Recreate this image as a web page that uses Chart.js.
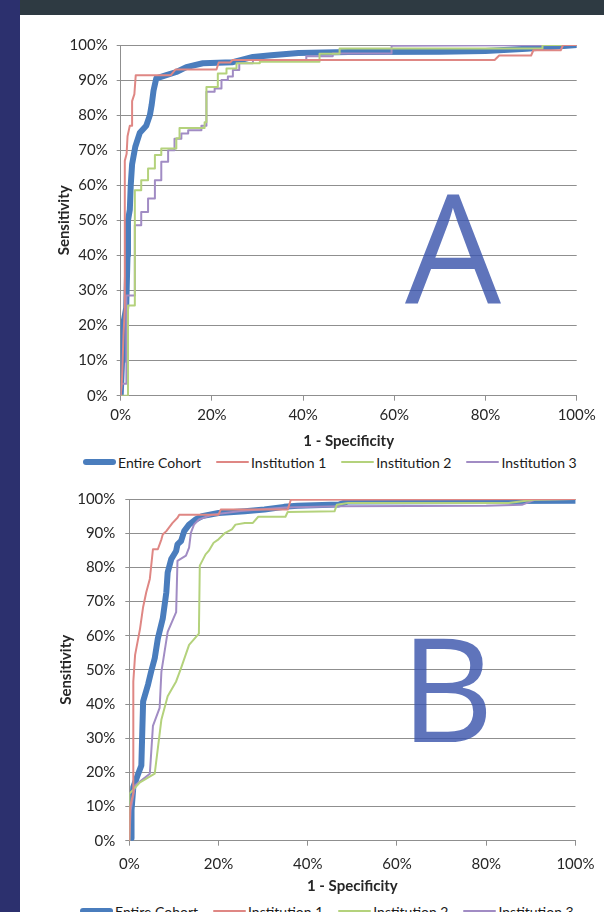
<!DOCTYPE html>
<html>
<head>
<meta charset="utf-8">
<script src="https://cdn.jsdelivr.net/npm/chart.js@4.4.0/dist/chart.umd.min.js"></script>
<style>
html, body { margin: 0; padding: 0; width: 604px; height: 912px; overflow: hidden; background: #fff; }
#sidebar { position: absolute; left: 0; top: 0; width: 20px; height: 912px; background: #2c306e; }
#topbar { position: absolute; left: 20px; top: 0; width: 584px; height: 15px; background: #2e3a42; }
canvas { position: absolute; left: 20px; }
#chartA { top: 15px; }
#chartB { top: 480px; }
.letter { position: absolute; width: 200px; text-align: center; font-family: "Open Sans"; color: rgba(60, 86, 172, 0.82); }
#letterA { left: 353px; top: 170px; font-size: 152px; line-height: 152px; }
#letterB { left: 347px; top: 613px; font-size: 145px; line-height: 145px; }
.legend { position: absolute; height: 20px; display: flex; align-items: center; white-space: nowrap; font-family: Lato; font-size: 14px; color: #1a1a1a; }
.legend .item { display: flex; align-items: center; margin-right: 15px; }
.legend .swatch { display: inline-block; width: 33px; margin-right: 2px; }
#legendA { left: 83px; top: 452px; }
#legendB { left: 80px; top: 901px; }
</style>
</head>
<body>
<div id="sidebar"></div>
<div id="topbar"></div>
<canvas id="chartA" width="584" height="435"></canvas>
<canvas id="chartB" width="584" height="415"></canvas>
<div class="letter" id="letterA">A</div>
<div class="letter" id="letterB">B</div>
<div class="legend" id="legendA"></div>
<div class="legend" id="legendB"></div>
<script>
// series names
var seriesNames = ['Entire Cohort', 'Institution 1', 'Institution 2', 'Institution 3'];

// panel A: 1 - specificity (%) and sensitivity (%)
var cohortA_x = [0, 0.3, 0.5, 1.2, 1.5, 1.6, 2.0, 2.2, 2.5, 3.2, 4.2, 5.6, 6.4, 6.8, 7.2, 7.8, 10, 12.2, 14.4, 18, 24.6, 29, 33, 39, 50, 70, 80, 89, 95, 100];
var cohortA_y = [0, 10, 20, 25, 40, 50, 53, 60, 66, 71, 75, 77, 80, 83, 87, 90.5, 91.4, 92.3, 93.7, 94.8, 95.1, 96.6, 97.1, 97.7, 98, 98.1, 98.3, 98.9, 99.5, 100];
var inst1A_x = [0, 0.3, 0.6, 0.9, 0.9, 1.3, 1.5, 2.0, 2.5, 2.5, 3.0, 3.3, 11, 12, 21, 21.5, 24, 24.5, 82, 83, 90, 90.5, 96.5, 97, 100];
var inst1A_y = [0, 5, 17, 25, 67, 69, 74, 77, 77, 84, 86, 91.4, 91.4, 93, 93, 95, 95, 95.7, 95.7, 97, 97, 98.5, 98.5, 100, 100];
var inst2A_x = [0, 1.6, 1.6, 3.1, 3.1, 4.5, 4.5, 6.0, 6.0, 7.5, 7.5, 8.9, 8.9, 12.2, 12.2, 12.9, 12.9, 18.4, 18.4, 18.8, 18.8, 21.3, 21.3, 23.2, 23.2, 25.4, 25.4, 30.5, 30.5, 43.6, 43.6, 48, 48, 92.5, 92.5, 100];
var inst2A_y = [0, 0, 25.7, 25.7, 58.6, 58.6, 61.4, 61.4, 64.8, 64.8, 68.6, 68.6, 70.5, 70.5, 73.4, 73.4, 76.3, 76.3, 78, 78, 88, 88, 91.9, 91.9, 93.3, 93.3, 94.8, 94.8, 95.2, 95.2, 97.5, 97.5, 99, 99, 100, 100];
var inst3A_x = [0, 0.2, 1.25, 1.25, 3.1, 3.1, 4.5, 4.5, 6.0, 6.0, 7.5, 7.5, 8.9, 8.9, 10.4, 10.4, 11.8, 11.8, 13.3, 13.3, 14.8, 14.8, 17.7, 17.7, 18.8, 18.8, 20.6, 20.6, 22.1, 22.1, 23.5, 23.5, 24.6, 24.6, 26, 26, 29, 29, 40.7, 40.7, 46.5, 46.5, 59.4, 59.4, 100];
var inst3A_y = [0, 3.4, 3.4, 28.6, 28.6, 48.6, 48.6, 52.4, 52.4, 56.2, 56.2, 61.4, 61.4, 66.7, 66.7, 70, 70, 73.3, 73.3, 74.8, 74.8, 75.7, 75.7, 77, 77, 86.7, 86.7, 87.6, 87.6, 90, 90, 91, 91, 92.9, 92.9, 94.8, 94.8, 95.7, 95.7, 96.8, 96.8, 97.6, 97.6, 99.8, 100];

// panel B
var cohortB_x = [0.4, 0.5, 0.9, 2.0, 2.7, 3.1, 4.2, 4.9, 5.7, 6.4, 7.5, 8.3, 8.6, 9.4, 10.5, 10.8, 11.6, 12.3, 13.4, 14.9, 16.3, 20, 25.9, 30.3, 34.7, 37.7, 47, 49, 100];
var cohortB_y = [0.7, 8.9, 15.7, 19.6, 22, 40.8, 45.7, 49.5, 53.4, 59.2, 65, 72.7, 78.5, 82.4, 84.8, 86.7, 87.7, 90.6, 92.5, 94, 95, 95.9, 96.4, 96.9, 97.7, 98, 98.4, 99.3, 99.5];
var inst1B_x = [0, 0.2, 0.9, 0.9, 1.3, 2.4, 3.1, 3.8, 4.6, 5.3, 6.4, 7.2, 7.5, 8.3, 9.7, 10.8, 11.2, 20, 20.5, 35.5, 36.2, 100];
var inst1B_y = [0, 10, 14, 46.6, 54.4, 62, 68.4, 72.7, 76.6, 85.3, 85.3, 88.2, 89.6, 90.6, 93, 94.5, 95.4, 95.4, 96.9, 96.9, 99.8, 100];
var inst2B_x = [0, 0, 2.4, 5.7, 7.2, 8.6, 10.5, 11.6, 13.4, 15.6, 15.8, 17.1, 17.8, 18.9, 20, 21.5, 23, 23.8, 25.9, 27.7, 28.9, 35, 35.5, 46, 46.5, 49, 85, 90.7, 100];
var inst2B_y = [0, 13.7, 17.1, 19.6, 35.5, 42.3, 46.6, 50.5, 57.3, 60.6, 80.5, 83.8, 84.8, 87.2, 88.2, 90.1, 91.1, 92.5, 93, 93, 94.8, 94.8, 96.2, 96.4, 98.3, 98.8, 98.8, 99.8, 100];
var inst3B_x = [0, 0.3, 1.3, 4.6, 5.3, 6.8, 7.2, 8.6, 10.5, 10.8, 12.7, 13.4, 13.8, 14.5, 15.6, 18.5, 25, 35, 47, 80, 88, 91, 100];
var inst3B_y = [0, 8.9, 16.2, 19.6, 33.6, 38.9, 49.5, 61.1, 66.9, 81.9, 83.4, 85.8, 90.1, 92.5, 94, 95.4, 96.5, 97.5, 97.9, 98, 98.3, 99.8, 100];

var colors = ['#4a7dbd', '#df8784', '#b4d27c', '#a18cc4'];
var widths = [6, 2, 2, 2];
var gridColor = '#8f8f8f';
var textColor = '#262626';

function pct(v) { return v + '%'; }

function toPoints(xs, ys) {
    var pts = [];
    for (var i = 0; i < xs.length; i++)
        pts.push({ x: xs[i], y: ys[i] });
    return pts;
}

// html legend built from the chart's datasets
function buildLegend(chart, id) {
    var box = document.getElementById(id);
    chart.data.datasets.forEach(function (ds) {
        var item = document.createElement('span');
        item.className = 'item';
        var sw = document.createElement('span');
        sw.className = 'swatch';
        sw.style.height = ds.borderWidth + 'px';
        sw.style.background = ds.borderColor;
        sw.style.borderRadius = (ds.borderWidth / 2) + 'px';
        item.appendChild(sw);
        item.appendChild(document.createTextNode(ds.label));
        box.appendChild(item);
    });
}

function rocChart(id, curves, g) {
    var datasets = [];
    for (var i = 0; i < curves.length; i++) {
        datasets.push({
            label: seriesNames[i],
            data: toPoints(curves[i][0], curves[i][1]),
            borderColor: colors[i],
            backgroundColor: colors[i],
            borderWidth: widths[i],
            borderJoinStyle: 'round',
            borderCapStyle: 'round',
            pointRadius: 0,
            tension: 0,
            fill: false,
            order: i == 0 ? 1 : 0
        });
    }
    return new Chart(document.getElementById(id), {
        type: 'line',
        data: { datasets: datasets },
        options: {
            responsive: false,
            animation: false,
            events: [],
            layout: { padding: { left: 20, right: g.padR, top: g.padT, bottom: 0 } },
            plugins: {
                tooltip: { enabled: false },
                legend: { display: false }
            },
            scales: {
                x: {
                    type: 'linear',
                    min: 0,
                    max: 100,
                    ticks: { stepSize: 20, callback: pct, padding: g.xTickPad, color: textColor, font: { family: 'Lato', size: 15 }, maxRotation: 0 },
                    grid: { drawOnChartArea: false, drawTicks: true, tickLength: 5, color: gridColor },
                    border: { color: gridColor },
                    title: { display: true, text: '1 - Specificity', color: textColor, font: { family: 'Lato', size: 15, weight: 'bold' }, padding: 0 },
                    afterFit: function (s) { s.height = g.xH; }
                },
                y: {
                    min: 0,
                    max: 100,
                    ticks: { stepSize: 10, callback: pct, padding: g.yTickPad, color: textColor, font: { family: 'Lato', size: 15 } },
                    grid: { color: gridColor, tickLength: 4 },
                    border: { color: gridColor },
                    title: { display: true, text: 'Sensitivity', color: textColor, font: { family: 'Lato', size: 15, weight: 'bold' }, padding: { top: g.yTitlePad, bottom: 0 } },
                    afterFit: function (s) { s.width = g.yW; }
                }
            }
        }
    });
}

window.onload = () => {
    var a = rocChart('chartA', [[cohortA_x, cohortA_y], [inst1A_x, inst1A_y], [inst2A_x, inst2A_y], [inst3A_x, inst3A_y]],
        { padR: 27.3, padT: 30, yW: 80.7, xH: 54.3, xTickPad: 5, yTickPad: 9, yTitlePad: 15.5 });
    var b = rocChart('chartB', [[cohortB_x, cohortB_y], [inst1B_x, inst1B_y], [inst2B_x, inst2B_y], [inst3B_x, inst3B_y]],
        { padR: 21.7, padT: 16, yW: 89.3, xH: 54.3, xTickPad: 9.5, yTickPad: 10, yTitlePad: 17.3 });
    buildLegend(a, 'legendA');
    buildLegend(b, 'legendB');
};
</script>
</body>
</html>
